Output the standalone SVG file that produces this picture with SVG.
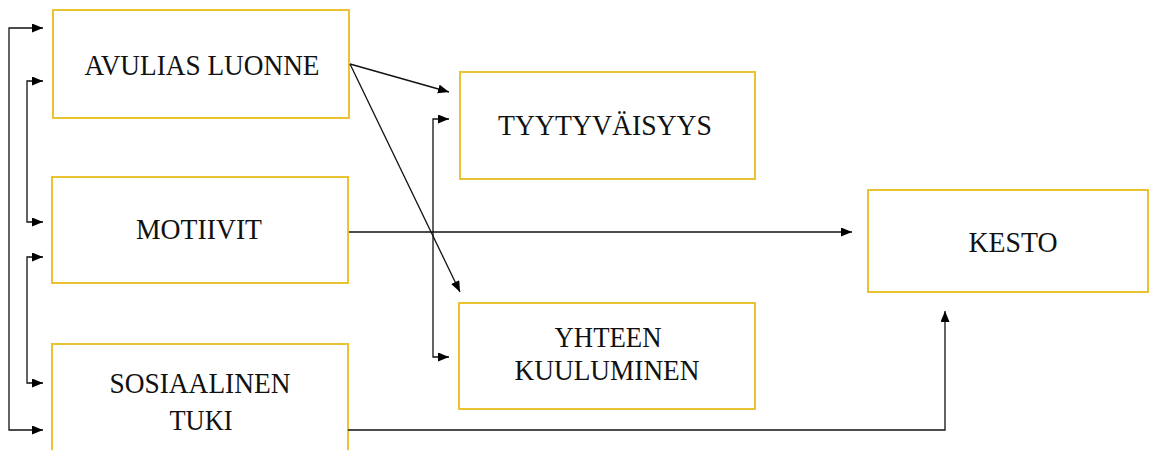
<svg xmlns="http://www.w3.org/2000/svg" width="1161" height="450" viewBox="0 0 1161 450">
<style>
.box{fill:#fff;stroke:#EBC332;stroke-width:2}
.lbl{font-family:"Liberation Serif","Times New Roman",serif;font-size:30px;fill:#111;text-anchor:middle}
.con{fill:none;stroke:#111;stroke-width:1.3}
</style>
<defs>
<marker id="ah" markerUnits="userSpaceOnUse" markerWidth="12" markerHeight="10" refX="11" refY="4.5" orient="auto-start-reverse">
<path d="M0,0 L11,4.5 L0,9 z" fill="#000"/>
</marker>
</defs>
<rect width="1161" height="450" fill="#fff"/>
<g id="avulias">
<rect class="box" x="53" y="10" width="296" height="108"/>
<text class="lbl" x="202" y="75" textLength="235" lengthAdjust="spacingAndGlyphs">AVULIAS LUONNE</text>
</g>
<g id="motiivit">
<rect class="box" x="52" y="177" width="296" height="106"/>
<text class="lbl" x="199" y="239" textLength="126" lengthAdjust="spacingAndGlyphs">MOTIIVIT</text>
</g>
<g id="sosiaalinen">
<rect class="box" x="52" y="344" width="296" height="120"/>
<text class="lbl" x="200" y="393" textLength="181" lengthAdjust="spacingAndGlyphs">SOSIAALINEN</text>
<text class="lbl" x="201" y="430" textLength="63" lengthAdjust="spacingAndGlyphs">TUKI</text>
</g>
<g id="tyytyvaisyys">
<rect class="box" x="460" y="72" width="295" height="107"/>
<text class="lbl" x="605" y="135" textLength="214" lengthAdjust="spacingAndGlyphs">TYYTYVÄISYYS</text>
</g>
<g id="yhteen">
<rect class="box" x="459" y="303" width="296" height="106"/>
<text class="lbl" x="608" y="347" textLength="107" lengthAdjust="spacingAndGlyphs">YHTEEN</text>
<text class="lbl" x="607" y="380" textLength="185" lengthAdjust="spacingAndGlyphs">KUULUMINEN</text>
</g>
<g id="kesto">
<rect class="box" x="868" y="190" width="280" height="102"/>
<text class="lbl" x="1013" y="252" textLength="89" lengthAdjust="spacingAndGlyphs">KESTO</text>
</g>
<g id="connectors">
<path class="con" d="M43,28 H9 V430 H43" marker-start="url(#ah)" marker-end="url(#ah)"/>
<path class="con" d="M43,81 H27 V222 H43" marker-start="url(#ah)" marker-end="url(#ah)"/>
<path class="con" d="M43,257 H27 V383 H43" marker-start="url(#ah)" marker-end="url(#ah)"/>
<path class="con" d="M350,64 L449,92" marker-end="url(#ah)"/>
<path class="con" d="M350,64 L460,292" marker-end="url(#ah)"/>
<path class="con" d="M449,119 H433 V357 H449" marker-start="url(#ah)" marker-end="url(#ah)"/>
<path class="con" d="M349,232 H852" marker-end="url(#ah)"/>
<path class="con" d="M348,430 H945 V311" marker-end="url(#ah)"/>
</g>
</svg>
